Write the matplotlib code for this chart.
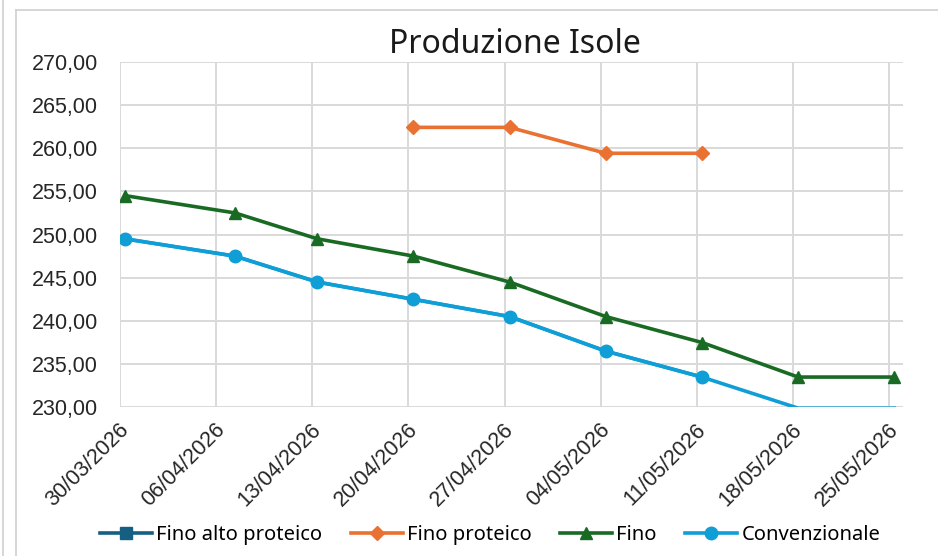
import matplotlib.pyplot as plt
from matplotlib.lines import Line2D
from matplotlib.transforms import ScaledTranslation
import numpy as np
import datetime as dt

plt.rcParams['font.family'] = ['Liberation Sans', 'DejaVu Sans']

# dati
date = ['30/03/2026', '07/04/2026', '13/04/2026', '20/04/2026', '27/04/2026',
        '04/05/2026', '11/05/2026', '18/05/2026', '25/05/2026']
fino_alto_proteico = [np.nan] * 9
fino_proteico = [np.nan, np.nan, np.nan, 262.4, 262.4, 259.4, 259.4, np.nan, np.nan]
fino = [254.5, 252.5, 249.5, 247.5, 244.5, 240.5, 237.5, 233.5, 233.5]
convenzionale = [249.5, 247.5, 244.5, 242.5, 240.5, 236.5, 233.5, 229.9, 229.9]
tick_date = ['30/03/2026', '06/04/2026', '13/04/2026', '20/04/2026', '27/04/2026',
             '04/05/2026', '11/05/2026', '18/05/2026', '25/05/2026']

x = [dt.datetime.strptime(d, '%d/%m/%Y') for d in date]
xt = [dt.datetime.strptime(d, '%d/%m/%Y') for d in tick_date]

fig = plt.figure(figsize=(9.38, 5.56), dpi=100)
ax = fig.add_axes([120/938, 1-407.3/556, 783/938, (407.3-61.7)/556])

c_fap, c_fp, c_f, c_c = '#156082', '#E97132', '#196B24', '#0F9ED5'

# marker leggermente spostati a destra come in Excel
shift = ScaledTranslation(5/100, 0, fig.dpi_scale_trans)
tr = ax.transData + shift

ax.plot(x, fino_alto_proteico, color=c_fap, lw=2.6, marker='s', ms=8, label='Fino alto proteico', transform=tr)
ax.plot(x, fino_proteico, color=c_fp, lw=2.6, marker='D', ms=7, label='Fino proteico', transform=tr)
ax.plot(x, fino, color=c_f, lw=2.6, marker='^', ms=9, label='Fino', transform=tr)
ax.plot(x, convenzionale, color=c_c, lw=2.6, zorder=2, transform=tr)
conv = np.array(convenzionale)
ax.plot(x, np.where(conv >= 230, conv, np.nan), color=c_c, lw=2.6, marker='o', ms=9,
        label='Convenzionale', zorder=2, transform=tr)

ax.set_ylim(230, 270)
ax.set_yticks(np.arange(230, 271, 5))
ax.yaxis.set_major_formatter(plt.FuncFormatter(lambda v, p: f'{v:.2f}'.replace('.', ',')))
ax.set_xlim(xt[0], xt[-1] + dt.timedelta(days=1))
ax.set_xticks(xt)
ax.set_xticklabels(tick_date)
ax.grid(True, color='#D9D9D9', lw=1.4)
ax.set_axisbelow(True)
for s in ax.spines.values():
    s.set_visible(False)
ax.tick_params(length=0, labelsize=15.5, labelcolor='#262626')
ax.tick_params(axis='y', pad=16)
ax.tick_params(axis='x', pad=14)
for t in ax.get_xticklabels():
    t.set_rotation(45)
    t.set_ha('right')
    t.set_va('center')
    t.set_rotation_mode('anchor')
    t.set_transform(t.get_transform() + ScaledTranslation(6/100, 0, fig.dpi_scale_trans))

fig.text(515/938, 1-45/556, 'Produzione Isole', ha='center', va='center',
         fontsize=23, family='Noto Sans', color='#1a1a1a')

leg = fig.legend(loc='center', bbox_to_anchor=(490/938, 1-535/556), ncol=4, frameon=False,
                 prop={'family': 'Noto Sans', 'size': 14.5}, handlelength=2.6,
                 handletextpad=0.2, columnspacing=1.4)

# bordi area grafico
fig.add_artist(Line2D([16/938, 16/938], [0, 1-10/556], color='#D0D0D0', lw=1.2))
fig.add_artist(Line2D([16/938, 1], [1-10/556, 1-10/556], color='#D0D0D0', lw=1.2))
fig.add_artist(Line2D([3/938, 3/938], [0, 1], color='#D0D0D0', lw=1.2))

fig.savefig('out.png', dpi=100)
